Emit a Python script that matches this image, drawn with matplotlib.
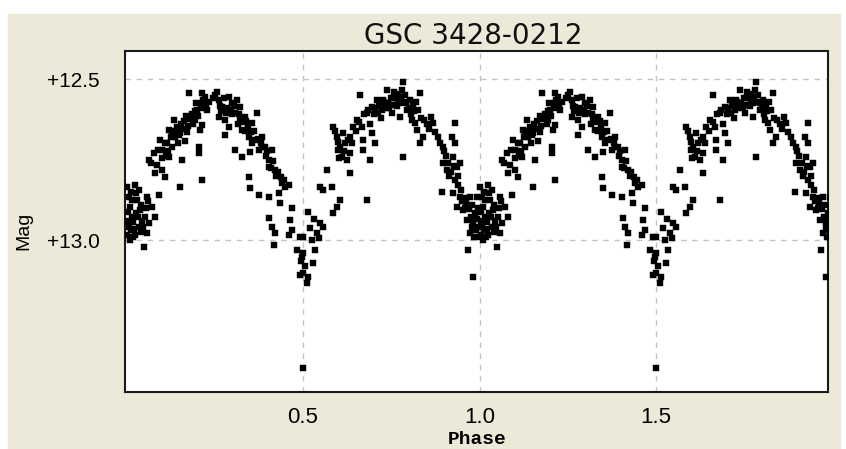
import numpy as np
import matplotlib
matplotlib.use('Agg')
import matplotlib.pyplot as plt
from matplotlib.patches import Rectangle

# one cycle of the folded light curve (phase, magnitude), drawn twice: phase and phase + 1
phase = [
    # around minimum at phase 0
    0.001, 0.024, 0.035, 0.007, 0.030, 0.058, 0.072, 0.010, 0.038, 0.016,
    0.052, 0.007, 0.035, 0.064, 0.024, 0.058, 0.010, 0.050, 0.081, 0.092,
    0.004, 0.020, 0.044, 0.015, 0.027, 0.042, 0.003, 0.018, 0.047,
    0.012, 0.028, 0.005, 0.033, 0.022, 0.040, 0.013, 0.055, 0.062,
    # rise to first maximum
    0.064, 0.078, 0.086, 0.081, 0.101, 0.109, 0.101, 0.120, 0.095, 0.109,
    0.129, 0.137, 0.122, 0.143, 0.152, 0.135, 0.166, 0.171, 0.157, 0.152,
    0.214, 0.205, 0.205, 0.194, 0.214, 0.208, 0.200, 0.214, 0.222, 0.214,
    0.177, 0.228, 0.234,
    0.070, 0.090, 0.115, 0.125, 0.140, 0.155, 0.160, 0.180, 0.185, 0.190,
    0.210, 0.118, 0.145,
    0.100, 0.112, 0.130, 0.148, 0.162, 0.170, 0.175, 0.195, 0.198, 0.218,
    0.203, 0.225,
    # maximum and decline
    0.256, 0.262, 0.271, 0.262, 0.279, 0.290, 0.299, 0.313, 0.322, 0.307,
    0.290, 0.279, 0.322, 0.336, 0.327, 0.370, 0.356, 0.347, 0.364, 0.384,
    0.392, 0.375, 0.412, 0.307, 0.327, 0.350, 0.404, 0.404, 0.421, 0.441,
    0.460, 0.432, 0.347, 0.350, 0.375, 0.404, 0.435, 0.469, 0.405, 0.412,
    0.421, 0.418, 0.462, 0.469, 0.460, 0.491, 0.483, 0.497, 0.491,
    0.245, 0.268, 0.285, 0.300, 0.315, 0.335, 0.345, 0.355, 0.380, 0.395,
    0.410, 0.425, 0.438,
    0.250, 0.265, 0.275, 0.282, 0.295, 0.305, 0.318, 0.330, 0.340, 0.352,
    0.360, 0.372, 0.385, 0.398, 0.415, 0.430, 0.445, 0.450,
    # minimum at phase 0.5
    0.500, 0.500, 0.500, 0.528, 0.511, 0.534, 0.514, 0.520, 0.548, 0.540,
    0.557, 0.585, 0.596, 0.605, 0.557, 0.548, 0.582, 0.568, 0.633, 0.681,
    0.500,
    0.505, 0.515, 0.495, 0.525, 0.545, 0.530,
    # rise to second maximum
    0.585, 0.596, 0.605, 0.610, 0.625, 0.633, 0.613, 0.633, 0.642, 0.653,
    0.667, 0.670, 0.670, 0.690, 0.695, 0.704, 0.661, 0.681, 0.695, 0.710,
    0.724, 0.737, 0.740, 0.751, 0.761, 0.775, 0.783, 0.780, 0.795, 0.803,
    0.775, 0.809, 0.831, 0.826, 0.843, 0.817, 0.823, 0.783, 0.831, 0.840,
    0.863, 0.868,
    0.700, 0.715, 0.730, 0.745, 0.755, 0.765, 0.770, 0.790, 0.800, 0.815,
    0.690, 0.720, 0.640, 0.620, 0.600,
    0.672, 0.685, 0.705, 0.712, 0.727, 0.733, 0.748, 0.752, 0.758, 0.768,
    0.778, 0.787, 0.793, 0.805, 0.812, 0.820, 0.835, 0.850, 0.858,
    0.590, 0.600, 0.615, 0.603, 0.628, 0.650, 0.660,
    # decline to phase 1
    0.882, 0.897, 0.931, 0.922, 0.931, 0.897, 0.908, 0.925, 0.936, 0.931,
    0.894, 0.925, 0.944, 0.936, 0.953, 0.973, 0.994, 0.965, 0.982, 0.973,
    0.967, 0.988, 0.997, 0.982,
    0.905, 0.915, 0.940, 0.950, 0.960, 0.985, 0.992, 0.978, 0.945,
    0.875, 0.888, 0.900, 0.912, 0.920, 0.928, 0.938, 0.948, 0.955, 0.962,
    0.970, 0.975, 0.980, 0.990, 0.995, 0.998,
]

mag = [
    12.835, 12.829, 12.845, 12.866, 12.876, 12.866, 12.898, 12.898, 12.907, 12.929,
    12.929, 12.960, 12.960, 12.947, 12.984, 12.978, 13.000, 13.022, 12.929, 12.860,
    12.912, 12.945, 12.940, 12.875, 12.915, 12.890, 12.985, 12.992, 12.960,
    12.850, 12.855, 12.940, 12.930, 12.965, 12.975, 12.970, 12.900, 12.880,

    12.752, 12.730, 12.767, 12.792, 12.783, 12.804, 12.745, 12.742, 12.689, 12.699,
    12.711, 12.680, 12.658, 12.649, 12.668, 12.627, 12.693, 12.665, 12.752, 12.835,
    12.814, 12.711, 12.730, 12.627, 12.643, 12.658, 12.596, 12.575, 12.556, 12.543,
    12.543, 12.596, 12.571,
    12.760, 12.720, 12.700, 12.680, 12.660, 12.640, 12.655, 12.625, 12.610, 12.640,
    12.590, 12.725, 12.700,
    12.720, 12.740, 12.660, 12.675, 12.630, 12.615, 12.645, 12.600, 12.575, 12.565,
    12.615, 12.580,

    12.540, 12.565, 12.587, 12.618, 12.627, 12.556, 12.575, 12.565, 12.587, 12.606,
    12.649, 12.674, 12.627, 12.618, 12.658, 12.606, 12.637, 12.680, 12.689, 12.680,
    12.711, 12.720, 12.720, 12.720, 12.742, 12.727, 12.752, 12.773, 12.783, 12.823,
    12.829, 12.854, 12.804, 12.839, 12.860, 12.866, 12.885, 12.901, 12.932, 12.960,
    12.978, 13.016, 12.938, 12.969, 12.984, 12.991, 13.031, 13.053, 13.109,
    12.560, 12.600, 12.590, 12.610, 12.640, 12.660, 12.650, 12.700, 12.700, 12.740,
    12.775, 12.800, 12.805,
    12.550, 12.585, 12.560, 12.605, 12.595, 12.585, 12.610, 12.635, 12.630, 12.665,
    12.660, 12.685, 12.710, 12.725, 12.755, 12.790, 12.815, 12.835,

    12.991, 13.040, 13.102, 13.071, 13.134, 13.031, 12.913, 12.963, 12.947, 12.978,
    12.960, 12.916, 12.898, 12.876, 12.845, 12.835, 12.835, 12.783, 12.792, 12.876,
    13.398,
    13.080, 13.115, 13.065, 13.000, 12.995, 12.935,

    12.649, 12.680, 12.711, 12.742, 12.752, 12.730, 12.668, 12.680, 12.649, 12.627,
    12.649, 12.689, 12.720, 12.752, 12.668, 12.699, 12.550, 12.606, 12.587, 12.565,
    12.596, 12.534, 12.575, 12.606, 12.556, 12.575, 12.509, 12.534, 12.596, 12.565,
    12.618, 12.627, 12.543, 12.596, 12.627, 12.637, 12.658, 12.742, 12.699, 12.680,
    12.618, 12.637,
    12.610, 12.585, 12.570, 12.590, 12.560, 12.585, 12.545, 12.550, 12.590, 12.600,
    12.640, 12.620, 12.700, 12.700, 12.720,
    12.610, 12.595, 12.590, 12.605, 12.565, 12.590, 12.560, 12.580, 12.540, 12.565,
    12.555, 12.570, 12.575, 12.610, 12.585, 12.570, 12.620, 12.640, 12.655,
    12.660, 12.695, 12.725, 12.745, 12.690, 12.660, 12.635,

    12.680, 12.711, 12.637, 12.680, 12.699, 12.761, 12.783, 12.742, 12.773, 12.814,
    12.851, 12.854, 12.866, 12.898, 12.907, 12.866, 12.866, 12.938, 12.947, 12.978,
    13.031, 12.916, 12.960, 13.115,
    12.740, 12.800, 12.830, 12.880, 12.900, 12.990, 12.935, 12.890, 12.760,
    12.665, 12.700, 12.725, 12.760, 12.790, 12.770, 12.800, 12.845, 12.870, 12.885,
    12.905, 12.930, 12.960, 12.970, 12.900, 12.990,
]

xticks = [0.5, 1.0, 1.5]
xtick_labels = ['0.5', '1.0', '1.5']
yticks = [12.5, 13.0]
ytick_labels = ['+12.5', '+13.0']
title = 'GSC 3428-0212'

ph = np.array(phase)
mg = np.array(mag)
ph2 = np.concatenate([ph, ph + 1])
mg2 = np.concatenate([mg, mg])

W, H = 846, 449
fig = plt.figure(figsize=(W / 100, H / 100), dpi=100, facecolor='white')
fig.add_artist(Rectangle((8 / W, 0), (840 - 8) / W, (H - 14) / H,
                         transform=fig.transFigure, color='#ECE9D8', zorder=-10))

ax = fig.add_axes([125 / W, (H - 392) / H, (828 - 125) / W, (392 - 51) / H])
ax.set_facecolor('white')
ax.plot(ph2, mg2, 's', color='black', ms=4.6, mec='black', mew=0.3, zorder=3)

ax.set_xlim(-0.004, 1.987)
ax.set_ylim(13.472, 12.413)
ax.set_xticks(xticks)
ax.set_xticklabels(xtick_labels, fontsize=16, family='Liberation Sans')
ax.set_yticks(yticks)
ax.set_yticklabels(ytick_labels, fontsize=15, family='Liberation Sans')
ax.tick_params(length=0)
ax.tick_params(axis='x', pad=11)
ax.tick_params(axis='y', pad=18)
ax.grid(True, color='#c4c4c4', linestyle=(0, (4, 4)), linewidth=1)
for s in ax.spines.values():
    s.set_color('#1a1a1a')
    s.set_linewidth(1.5)

fig.text(473 / W, (H - 44) / H, title, ha='center', va='baseline',
         fontsize=20, family='DejaVu Sans', color='#111111')
fig.text(477 / W, (H - 431) / H, 'Phase', ha='center', va='top',
         fontsize=14, family='Liberation Mono', weight='bold')
fig.text(24 / W, 1 - 231 / H, 'Mag', ha='center', va='center', rotation=90,
         fontsize=14, family='Liberation Sans')

fig.savefig('out.png', dpi=100)
